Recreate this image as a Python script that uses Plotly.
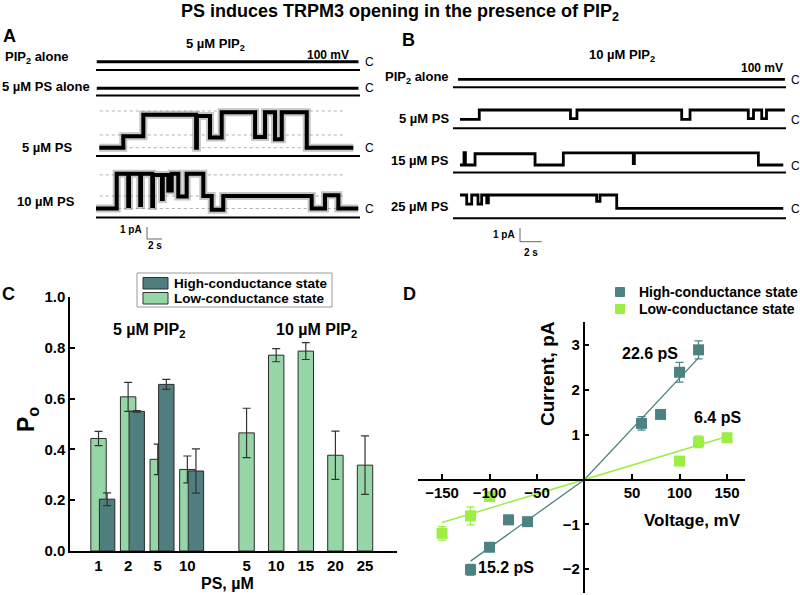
import plotly.graph_objects as go

FONT = "Liberation Sans, Arial, sans-serif"
W, H = 800, 595

# ---------------- data ----------------
# Panel A (5 uM PIP2): single-channel traces, time (s) and current above closed level (pA)
a_pip2_t = [0.1, 35.0]
a_pip2_i = [0, 0]
a_ps5alone_t = [0.1, 35.0]
a_ps5alone_i = [0, 0]
a_ps5_t = [0.44, 3.64, 6.31, 13.35, 13.45, 15.2, 16.76, 21.21, 22.54, 23.87, 24.77, 28.1, 34.31]
a_ps5_i = [0, 0.95, 2.75, 0.0, 2.65, 0.85, 2.95, 0.9, 2.95, 0.7, 2.95, 0, 0]
a_ps10_t = [0, 2.76, 4.3, 4.4, 5.9, 6.0, 7.5, 7.6, 8.8, 8.9, 9.64, 10.09, 10.97, 12.09,
            14.31, 15.43, 16.97, 28.76, 30.53, 32.31, 34.97]
a_ps10_i = [0, 2.9, 0.2, 2.9, 0.3, 2.9, 0.2, 2.8, 0.8, 2.8, 1.5, 2.9, 1.0, 2.9,
            1.05, -0.1, 1.05, 0, 1.1, 0, 0]
a_labels = ["PIP<sub>2</sub> alone", "5 µM PS alone", "5 µM PS", "10 µM PS"]

# Panel B (10 uM PIP2)
b_pip2_t = [-0.18, 30.0]
b_pip2_i = [0, 0]
b_ps5_t = [0, 1.78, 10.2, 10.8, 20.47, 21.24, 26.62, 27.1, 27.86, 28.3, 30.0]
b_ps5_i = [0, 0.68, 0.05, 0.68, 0.0, 0.68, 0.05, 0.68, 0.05, 0.68, 0.68]
b_ps15_t = [0, 0.37, 0.5, 1.39, 6.93, 9.54, 16.0, 16.1, 27.55, 29.85]
b_ps15_i = [0, 0.9, 0, 0.82, 0, 0.88, 0.1, 0.88, 0, 0]
b_ps25_t = [0, 0.62, 1.08, 1.66, 2.0, 2.47, 2.62, 12.62, 12.93, 14.47, 29.85]
b_ps25_i = [0.97, 0.3, 0.97, 0.3, 0.97, 0.4, 0.97, 0.5, 0.97, 0, 0]
b_labels = ["PIP<sub>2</sub> alone", "5 µM PS", "15 µM PS", "25 µM PS"]

# Panel C: open probability
c_ticktext = ["1", "2", "5", "10", "5", "10", "15", "20", "25"]
c_low_po = [0.443, 0.607, 0.361, 0.321, 0.465, 0.771, 0.787, 0.377, 0.338]
c_low_err = [0.028, 0.057, 0.06, 0.053, 0.097, 0.026, 0.033, 0.095, 0.115]
c_high_po = [0.204, 0.55, 0.656, 0.315]
c_high_err = [0.025, 0.003, 0.02, 0.087]

# Panel D: I-V relation
d_high_v = [-120, -100, -80, -60, 60, 80, 100, 120]
d_high_i = [-2.01, -1.51, -0.9, -0.94, 1.25, 1.45, 2.39, 2.89]
d_high_err = [0.12, 0.06, 0.1, 0.03, 0.15, 0, 0.22, 0.2]
d_low_v = [-150, -120, -100, 100, 120, 150]
d_low_i = [-1.2, -0.81, -0.38, 0.41, 0.84, 0.93]
d_low_err = [0.15, 0.2, 0.05, 0, 0.13, 0.1]
d_high_fit_v = [-120, 0, 120]
d_high_fit_i = [-1.82, 0, 2.71]
d_low_fit_v = [-150, 0, 150]
d_low_fit_i = [-0.96, 0, 0.96]

# ---------------- layout helpers ----------------
def fx(px):
    return px / W

def fy(py):
    return 1 - py / H

C_HIGH = "#507d7d"
C_LOW = "#96d6a6"
D_HIGH = "#4c8282"
D_LOW = "#9cee44"

fig = go.Figure()
shapes = []
annotations = []

def text(x, y, s, size=13, xanchor="center", angle=0, bold=True, color="black"):
    annotations.append(dict(
        x=fx(x), y=fy(y), xref="paper", yref="paper", text=f"<b>{s}</b>" if bold else s,
        showarrow=False, xanchor=xanchor, yanchor="middle", textangle=angle,
        font=dict(family=FONT, size=size, color=color)))

def paper_rect(x0, y0, x1, y1, fill, line_color, line_width=1):
    shapes.append(dict(type="rect", xref="paper", yref="paper", x0=fx(x0), x1=fx(x1),
                       y0=fy(y1), y1=fy(y0), fillcolor=fill,
                       line=dict(color=line_color, width=line_width)))

# --- trace panels: pixel geometry ---
A_X0, A_X1, A_T0PX, A_PXS = 96, 360, 96, 7.5
A_Y0, A_Y1, A_PXPA = 40, 250, 12
B_X0, B_X1, B_T0PX, B_PXS = 453, 786, 460, 10.83
B_Y0, B_Y1, B_PXPA = 60, 250, 13.7

a_rows_px = [61.7, 88.3, 147.7, 208.5]
a_lines_px = [70, 95.5, 156, 217.5]
b_rows_px = [79.3, 119.3, 165, 208.3]
b_lines_px = [87.3, 128.3, 172.5, 218.3]

def a_off(py):
    return (A_Y1 - py) / A_PXPA

def b_off(py):
    return (B_Y1 - py) / B_PXPA

def add_trace_row(t, cur, off, xa, ya, noisy, width):
    y = [v + off for v in cur]
    if noisy:
        fig.add_trace(go.Scatter(x=t, y=y, mode="lines", xaxis=xa, yaxis=ya, showlegend=False,
                                 hoverinfo="skip", opacity=0.45,
                                 line=dict(color="#808080", width=8, shape="hv")))
    fig.add_trace(go.Scatter(x=t, y=y, mode="lines", xaxis=xa, yaxis=ya, showlegend=False,
                             hoverinfo="skip", line=dict(color="black", width=width, shape="hv")))

# Panel A
a_data = [(a_pip2_t, a_pip2_i, False), (a_ps5alone_t, a_ps5alone_i, False),
          (a_ps5_t, a_ps5_i, True), (a_ps10_t, a_ps10_i, True)]
a_tmax = (A_X1 - A_T0PX) / A_PXS
for (t, cur, noisy), rp, lp in zip(a_data, a_rows_px, a_lines_px):
    add_trace_row(t, cur, a_off(rp), "x", "y", noisy, 4 if noisy else 3)
    shapes.append(dict(type="line", xref="x", yref="y", x0=(95 - A_T0PX) / A_PXS, x1=a_tmax,
                       y0=a_off(lp), y1=a_off(lp), line=dict(color="black", width=2)))
    text(363, rp, "C", size=12, xanchor="left", bold=False)

# dotted reference levels in A
for rp, levels in [(147.7, [0, 1.06, 3.06]), (208.5, [0, 1.04, 2.8])]:
    for lv in levels:
        shapes.append(dict(type="line", xref="x", yref="y", x0=0.5, x1=32.9,
                           y0=a_off(rp) + lv, y1=a_off(rp) + lv, layer="below",
                           line=dict(color="#b0b0b0", width=1, dash="dot")))

# scale bar A
sa_t, sa_y = (147 - A_T0PX) / A_PXS, a_off(239)
shapes.append(dict(type="line", xref="x", yref="y", x0=sa_t, x1=sa_t, y0=sa_y, y1=sa_y + 1,
                   line=dict(color="#666", width=1)))
shapes.append(dict(type="line", xref="x", yref="y", x0=sa_t, x1=sa_t + 2, y0=sa_y, y1=sa_y,
                   line=dict(color="#666", width=1)))
text(144, 230, "1 pA", size=10, xanchor="right")
text(155, 246, "2 s", size=10)

text(3, 58, a_labels[0], xanchor="left")
text(0, 86, a_labels[1], xanchor="left")
text(47, 147, a_labels[2])
text(46, 201, a_labels[3])
text(9, 36, "A", size=18)
text(215, 45, "5 µM PIP<sub>2</sub>", size=13)
text(328, 55, "100 mV", size=12)

# Panel B
b_data = [(b_pip2_t, b_pip2_i), (b_ps5_t, b_ps5_i), (b_ps15_t, b_ps15_i), (b_ps25_t, b_ps25_i)]
b_tmax = (B_X1 - B_T0PX) / B_PXS
for (t, cur), rp, lp in zip(b_data, b_rows_px, b_lines_px):
    add_trace_row(t, cur, b_off(rp), "x2", "y2", False, 2.8)
    shapes.append(dict(type="line", xref="x2", yref="y2", x0=(B_X0 - B_T0PX) / B_PXS, x1=b_tmax,
                       y0=b_off(lp), y1=b_off(lp), line=dict(color="black", width=2)))
    text(789, rp + 1, "C", size=12, xanchor="left", bold=False)

sb_t, sb_y = (520 - B_T0PX) / B_PXS, b_off(241.7)
shapes.append(dict(type="line", xref="x2", yref="y2", x0=sb_t, x1=sb_t, y0=sb_y, y1=sb_y + 1,
                   line=dict(color="#666", width=1)))
shapes.append(dict(type="line", xref="x2", yref="y2", x0=sb_t, x1=sb_t + 2, y0=sb_y, y1=sb_y,
                   line=dict(color="#666", width=1)))
text(517, 235, "1 pA", size=10, xanchor="right")
text(531, 252, "2 s", size=10)

for lab, rp in zip(b_labels, [78, 119, 161, 206]):
    text(451, rp, lab, xanchor="right")
text(408, 40, "B", size=18)
text(622, 55, "10 µM PIP<sub>2</sub>", size=13)
text(762, 68, "100 mV", size=12)

# Panel C: bars
c_low_x = [0, 1, 2, 3, 5, 6, 7, 8, 9]
c_high_x = [v + 0.29 for v in c_low_x[:4]]
fig.add_trace(go.Bar(x=c_low_x, y=c_low_po, width=0.52, name="Low-conductance state",
                     marker=dict(color=C_LOW, line=dict(color="#2a2a2a", width=1)),
                     error_y=dict(type="data", array=c_low_err, color="#333", thickness=1.2, width=4),
                     xaxis="x3", yaxis="y3", showlegend=False))
fig.add_trace(go.Bar(x=c_high_x, y=c_high_po, width=0.52, name="High-conductance state",
                     marker=dict(color=C_HIGH, line=dict(color="#2a2a2a", width=1)),
                     error_y=dict(type="data", array=c_high_err, color="#333", thickness=1.2, width=4),
                     xaxis="x3", yaxis="y3", showlegend=False))
text(8, 294, "C", size=18)
text(149, 330, "5 µM PIP<sub>2</sub>", size=16)
text(316, 330, "10 µM PIP<sub>2</sub>", size=16)
text(227, 583, "PS, µM", size=16)
text(27, 420, "P<sub>o</sub>", size=23, angle=-90)

# legend box of C
paper_rect(137, 273, 332, 307, "white", "#999")
paper_rect(143, 277.5, 168, 289, C_HIGH, "#333")
paper_rect(143, 292.5, 168, 304, C_LOW, "#333")
text(172, 283.5, "High-conductance state", size=13.5, xanchor="left")
text(172, 298.5, "Low-conductance state", size=13.5, xanchor="left")

# Panel D: I-V
fig.add_trace(go.Scatter(x=d_high_fit_v, y=d_high_fit_i, mode="lines", xaxis="x4", yaxis="y4",
                         showlegend=False, line=dict(color=D_HIGH, width=1.3)))
fig.add_trace(go.Scatter(x=d_low_fit_v, y=d_low_fit_i, mode="lines", xaxis="x4", yaxis="y4",
                         showlegend=False, line=dict(color=D_LOW, width=1.5)))
fig.add_trace(go.Scatter(x=d_high_v, y=d_high_i, mode="markers", name="High-conductance state",
                         marker=dict(symbol="square", size=11, color=D_HIGH),
                         error_y=dict(type="data", array=d_high_err, color=D_HIGH, thickness=1.2, width=4),
                         xaxis="x4", yaxis="y4", showlegend=False))
fig.add_trace(go.Scatter(x=d_low_v, y=d_low_i, mode="markers", name="Low-conductance state",
                         marker=dict(symbol="square", size=11, color=D_LOW),
                         error_y=dict(type="data", array=d_low_err, color=D_LOW, thickness=1.2, width=4),
                         xaxis="x4", yaxis="y4", showlegend=False))
text(410, 294, "D", size=18)
text(650, 353, "22.6 pS", size=16)
text(717, 417, "6.4 pS", size=16)
text(506, 567, "15.2 pS", size=16)
text(692, 520, "Voltage, mV", size=17)
text(547, 374, "Current, pA", size=19, angle=-90)

# legend of D
paper_rect(615.5, 287.5, 624.5, 296.5, D_HIGH, D_HIGH)
paper_rect(615.5, 304.5, 624.5, 313.5, D_LOW, D_LOW)
text(637, 292, "High-conductance state", size=14, xanchor="left")
text(637, 309, "Low-conductance state", size=14, xanchor="left")

text(400, 12, "PS induces TRPM3 opening in the presence of PIP<sub>2</sub>", size=18)

hidden = dict(visible=False, showgrid=False, zeroline=False)
tickfont_c = dict(family=FONT, size=15, color="black", weight="bold")
tickfont_d = dict(family=FONT, size=15, color="black", weight="bold")

fig.update_layout(
    width=W, height=H, autosize=False,
    margin=dict(l=0, r=0, t=0, b=0),
    paper_bgcolor="white", plot_bgcolor="white",
    template="none",
    font=dict(family=FONT, color="black"),
    barmode="overlay",
    showlegend=False,
    xaxis=dict(domain=[fx(A_X0), fx(A_X1)], range=[0, a_tmax], **hidden),
    yaxis=dict(domain=[fy(A_Y1), fy(A_Y0)], range=[0, (A_Y1 - A_Y0) / A_PXPA], **hidden),
    xaxis2=dict(domain=[fx(B_X0), fx(B_X1)], range=[(B_X0 - B_T0PX) / B_PXS, b_tmax],
                anchor="y2", **hidden),
    yaxis2=dict(domain=[fy(B_Y1), fy(B_Y0)], range=[0, (B_Y1 - B_Y0) / B_PXPA], anchor="x2", **hidden),
    xaxis3=dict(domain=[fx(70), fx(397)], range=[-0.963, 10.08], anchor="y3",
                showline=True, linecolor="black", linewidth=1.5, showgrid=False, zeroline=False,
                ticks="", tickvals=c_low_x, ticktext=c_ticktext, tickfont=tickfont_c),
    yaxis3=dict(domain=[fy(551), fy(297)], range=[0, 1.0], anchor="x3",
                showline=True, linecolor="black", linewidth=1.5, showgrid=False, zeroline=False,
                ticks="inside", ticklen=5, tickwidth=1.5, tickcolor="black",
                tickvals=[0, 0.2, 0.4, 0.6, 0.8, 1.0], tickformat=".1f", tickfont=tickfont_c),
    xaxis4=dict(domain=[fx(418), fx(745)], range=[-175.3, 168.9], anchor="free", position=fy(479.6),
                showline=True, linecolor="black", linewidth=1.5, showgrid=False, zeroline=False,
                ticks="inside", ticklen=5, tickwidth=1.5, tickcolor="black",
                tickvals=[-150, -100, -50, 50, 100, 150], tickfont=tickfont_d),
    yaxis4=dict(domain=[fy(593), fy(322)], range=[-2.53, 3.51], anchor="free", position=fx(583.5),
                showline=True, linecolor="black", linewidth=1.5, showgrid=False, zeroline=False,
                ticks="inside", ticklen=5, tickwidth=1.5, tickcolor="black",
                tickvals=[-2, -1, 1, 2, 3], tickfont=tickfont_d),
    shapes=shapes,
    annotations=annotations,
)

fig.write_html("out.html", config={"displayModeBar": False},
               post_script="document.body.style.margin='0px';")
